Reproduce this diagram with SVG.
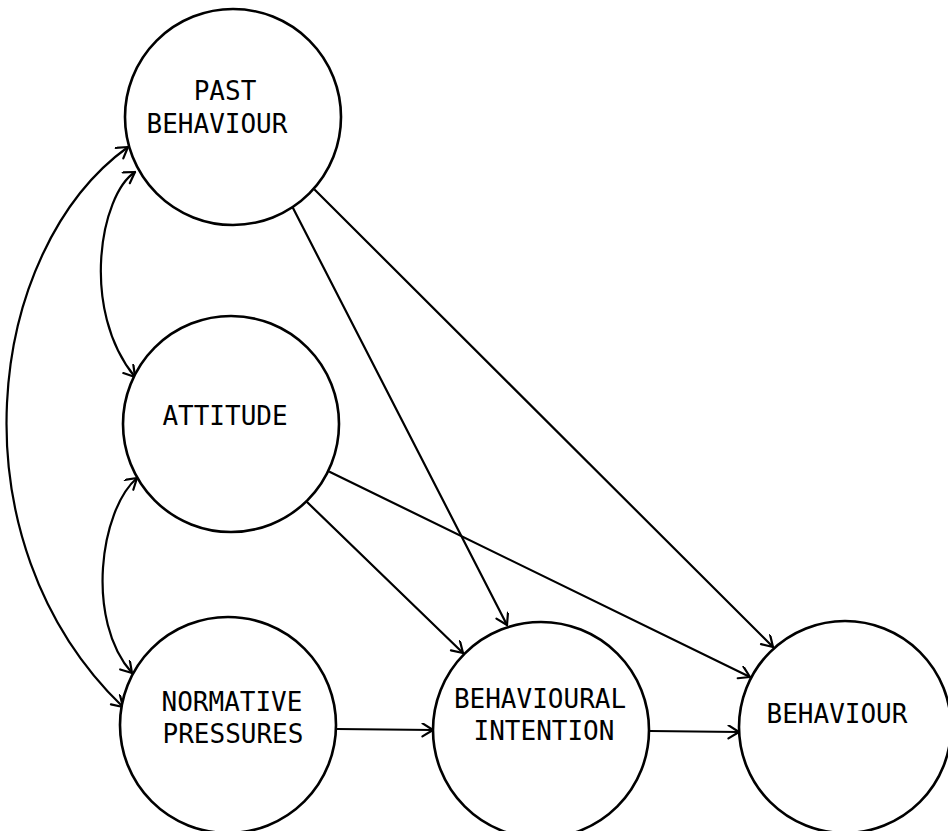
<svg xmlns="http://www.w3.org/2000/svg" width="948" height="831" viewBox="0 0 948 831">
  <style>
    .node circle { fill: #fff; stroke: #000; stroke-width: 2.6; }
    .node text { font-family: "DejaVu Sans Mono", "Liberation Mono", monospace; font-size: 26px; fill: #000; }
    .edge { fill: none; stroke: #000; stroke-width: 2.2; stroke-linecap: round; }
    .arrow { marker-end: url(#head); }
    .both { marker-start: url(#head); marker-end: url(#head); }
  </style>
  <defs>
    <marker id="head" markerUnits="userSpaceOnUse" markerWidth="16" markerHeight="16" refX="12" refY="7" orient="auto-start-reverse">
      <path d="M1.5,0.5 L12,7 L1.5,13.5" fill="none" stroke="#000" stroke-width="2.2" stroke-linecap="round" stroke-linejoin="round"/>
    </marker>
  </defs>
  <rect width="948" height="831" fill="#fff"/>

  <g id="connectors">
    <!-- curved two-way links on the left -->
    <path class="edge both" d="M128,147 C-15,250 -50,540 123,707"/>
    <path class="edge both" d="M135,172 C100,195 80,310 135,377"/>
    <path class="edge both" d="M137,478 C100,510 85,620 132,673"/>
    <!-- one-way paths -->
    <path class="edge arrow" d="M293,208 L507,625"/>
    <path class="edge arrow" d="M315,190 L773,647"/>
    <path class="edge arrow" d="M307,502 L463,653"/>
    <path class="edge arrow" d="M330,472 L750,677"/>
    <path class="edge arrow" d="M337,729 L433,730"/>
    <path class="edge arrow" d="M650,731 L739,732"/>
  </g>

  <g id="past-behaviour" class="node">
    <circle cx="233" cy="117" r="108"/>
    <text x="225" y="100" text-anchor="middle">PAST</text>
    <text x="217" y="133" text-anchor="middle">BEHAVIOUR</text>
  </g>

  <g id="attitude" class="node">
    <circle cx="231" cy="424" r="108"/>
    <text x="225" y="425" text-anchor="middle">ATTITUDE</text>
  </g>

  <g id="normative-pressures" class="node">
    <circle cx="228" cy="725" r="108"/>
    <text x="232" y="711" text-anchor="middle">NORMATIVE</text>
    <text x="233" y="743" text-anchor="middle">PRESSURES</text>
  </g>

  <g id="behavioural-intention" class="node">
    <circle cx="541" cy="730" r="108"/>
    <text x="540" y="708" text-anchor="middle">BEHAVIOURAL</text>
    <text x="544" y="740" text-anchor="middle">INTENTION</text>
  </g>

  <g id="behaviour" class="node">
    <circle cx="845" cy="727" r="106"/>
    <text x="837" y="723" text-anchor="middle">BEHAVIOUR</text>
  </g>
</svg>
